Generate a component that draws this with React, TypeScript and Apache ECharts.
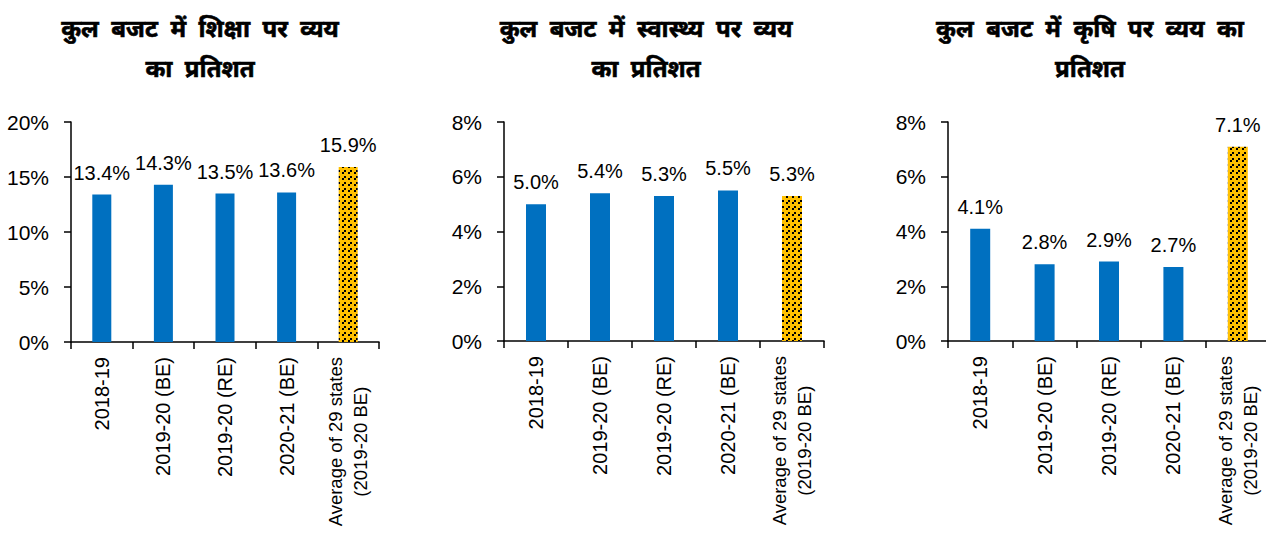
import React, { useEffect, useRef } from "react";
import * as echarts from "echarts";

const categories = [
  "2018-19",
  "2019-20 (BE)",
  "2019-20 (RE)",
  "2020-21 (BE)",
  "Average of 29 states\n(2019-20 BE)",
];
const educationValues = [13.4, 14.3, 13.5, 13.6, 15.9];
const healthValues = [5.0, 5.4, 5.3, 5.5, 5.3];
const agricultureValues = [4.1, 2.8, 2.9, 2.7, 7.1];

const titles = [
  "कुल  बजट  में  शिक्षा  पर  व्यय\nका  प्रतिशत",
  "कुल  बजट  में  स्वास्थ्य  पर  व्यय\nका  प्रतिशत",
  "कुल  बजट  में  कृषि  पर  व्यय  का\nप्रतिशत",
];
const yMax = [20, 8, 8];
const yInterval = [5, 2, 2];

const SANS = "'Liberation Sans', Arial, sans-serif";
const DEVA = "'Noto Sans Devanagari', 'Lohit Devanagari', 'Mangal', 'Noto Sans', sans-serif";

function makePattern(): string {
  const c = document.createElement("canvas");
  c.width = 6;
  c.height = 6;
  const ctx = c.getContext("2d")!;
  ctx.fillStyle = "#FFC000";
  ctx.fillRect(0, 0, 6, 6);
  ctx.fillStyle = "#000000";
  ctx.fillRect(0, 4, 2, 2);
  ctx.fillRect(2, 2, 2, 2);
  return c.toDataURL();
}

export default function App() {
  const ref = useRef<HTMLDivElement>(null);
  useEffect(() => {
    document.body.style.margin = "0";
    const chart = echarts.init(ref.current!, null, { renderer: "svg" });
    const pattern = {
      image: makePattern(),
      repeat: "repeat",
      imageWidth: 6,
      imageHeight: 6,
    };
    const grids = [
      { left: 71, top: 122, width: 308, height: 220, containLabel: false, outerBoundsMode: "none" },
      { left: 504, top: 122, width: 320, height: 219, containLabel: false, outerBoundsMode: "none" },
      { left: 948, top: 122, width: 322, height: 219, containLabel: false, outerBoundsMode: "none" },
    ];
    const centers = [200, 646, 1090];
    const datasets = [educationValues, healthValues, agricultureValues];
    const barWidths = [19, 20, 20];
    const axisLine = { show: true, lineStyle: { color: "#000", width: 1.5 } };
    const option: any = {
      animation: false,
      backgroundColor: "#fff",
      title: titles.map((t, i) => ({
        text: t,
        left: centers[i],
        top: 11,
        textAlign: "center",
        padding: 0,
        textStyle: {
          fontFamily: DEVA,
          fontSize: 24,
          fontWeight: "bold",
          color: "#000",
          lineHeight: 40,
          textBorderColor: "#000",
          textBorderWidth: 0.6,
        },
      })),
      grid: grids,
      xAxis: grids.map((_, i) => ({
        type: "category",
        gridIndex: i,
        data: categories,
        axisLine,
        axisTick: { show: true, length: 7, lineStyle: { color: "#000", width: 1.5 } },
        axisLabel: {
          rotate: 90,
          margin: 15,
          interval: 0,
          color: "#000",
          fontFamily: SANS,
          fontSize: 20,
          lineHeight: 25,
          formatter: (v: string) =>
            v.indexOf("\n") >= 0
              ? v
                  .split("\n")
                  .map((l) => `{c|${l}}`)
                  .join("\n")
              : v,
          rich: {
            c: {
              align: "center",
              fontFamily: SANS,
              fontSize: 18.5,
              lineHeight: 25,
              color: "#000",
            },
          },
        },
      })),
      yAxis: grids.map((_, i) => ({
        type: "value",
        gridIndex: i,
        min: 0,
        max: yMax[i],
        interval: yInterval[i],
        axisLine,
        axisTick: { show: true, length: 7, lineStyle: { color: "#000", width: 1.5 } },
        splitLine: { show: false },
        axisLabel: {
          margin: 22,
          color: "#000",
          fontFamily: SANS,
          fontSize: 21,
          formatter: "{value}%",
        },
      })),
      series: datasets.map((vals, i) => ({
        type: "bar",
        xAxisIndex: i,
        yAxisIndex: i,
        barWidth: barWidths[i],
        data: vals.map((v, j) => ({
          value: v,
          itemStyle: { color: j === vals.length - 1 ? pattern : "#0070C0" },
        })),
        label: {
          show: true,
          position: "top",
          distance: 12,
          color: "#000",
          fontFamily: SANS,
          fontSize: 20,
          formatter: (p: any) => `${Number(p.value).toFixed(1)}%`,
        },
      })),
    };
    chart.setOption(option);
    return () => chart.dispose();
  }, []);
  return <div ref={ref} style={{ width: 1266, height: 535 }} />;
}
